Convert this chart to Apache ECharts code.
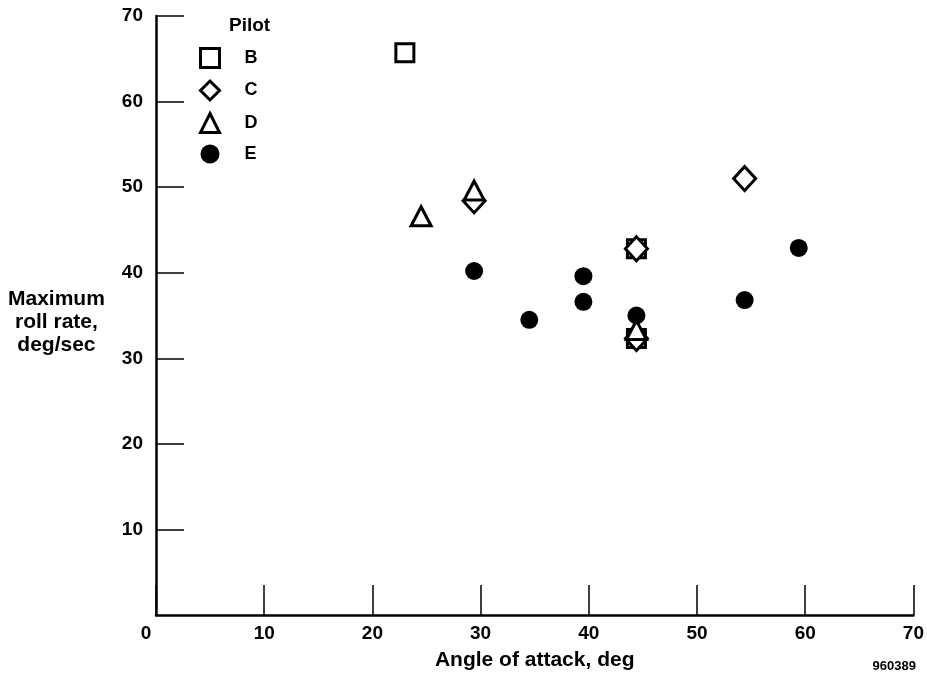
<!DOCTYPE html>
<html>
<head>
<meta charset="utf-8">
<script src="https://cdn.jsdelivr.net/npm/echarts@6/dist/echarts.min.js"></script>
<style>
html,body{margin:0;padding:0;background:#fff;}
#chart{width:927px;height:679px;}
</style>
</head>
<body>
<div id="chart"></div>
<script>
// Pilot B (open square)
var pilotB_x = [23.0, 44.4, 44.4];
var pilotB_y = [65.7, 42.8, 32.3];
// Pilot C (open diamond)
var pilotC_x = [29.4, 44.4, 44.4, 54.4];
var pilotC_y = [48.4, 42.8, 32.3, 51.0];
// Pilot D (open triangle)
var pilotD_x = [24.5, 29.4, 44.4];
var pilotD_y = [46.6, 49.6, 33.3];
// Pilot E (filled circle)
var pilotE_x = [29.4, 34.5, 39.5, 39.5, 44.4, 54.4, 59.4];
var pilotE_y = [40.2, 34.5, 39.6, 36.6, 35.0, 36.8, 42.9];

var xTicks = [0, 10, 20, 30, 40, 50, 60, 70];
var yTicks = [10, 20, 30, 40, 50, 60, 70];

function pairs(xs, ys) { return xs.map(function (x, i) { return [x, ys[i]]; }); }

var FONT = '"Liberation Sans", Arial, sans-serif';
var chart = echarts.init(document.getElementById('chart'));

var hollow = { color: '#ffffff', borderColor: '#000000', borderWidth: 3, opacity: 1 };

chart.setOption({
  animation: false,
  backgroundColor: '#ffffff',
  grid: { left: 156, right: 10, top: 16, bottom: 64 },
  legend: {
    orient: 'vertical',
    left: 194,
    top: 42,
    itemGap: 10.5,
    itemWidth: 19,
    itemHeight: 19,
    itemStyle: { borderWidth: 3 },
    textStyle: { fontFamily: FONT, fontWeight: 'bold', fontSize: 18, color: '#000', padding: [0, 0, 0, 20] },
    data: ['B', 'C', 'D', 'E']
  },
  xAxis: {
    type: 'value',
    min: xTicks[0],
    max: xTicks[xTicks.length - 1],
    interval: 10,
    name: 'Angle of attack, deg',
    nameLocation: 'middle',
    nameGap: 35,
    nameTextStyle: { fontFamily: FONT, fontWeight: 'bold', fontSize: 21, color: '#000' },
    axisLine: { show: true, lineStyle: { color: '#000', width: 2.5 } },
    axisTick: { show: true, inside: true, length: 30, lineStyle: { color: '#000', width: 1.5 } },
    axisLabel: {
      fontFamily: FONT, fontWeight: 'bold', fontSize: 19, color: '#000', margin: 9,
      formatter: function (v) { return v === 0 ? '{z|0}' : String(v); },
      rich: { z: { fontFamily: FONT, fontWeight: 'bold', fontSize: 19, color: '#000', padding: [0, 20, 0, 0] } }
    },
    splitLine: { show: false }
  },
  yAxis: {
    type: 'value',
    min: 0,
    max: yTicks[yTicks.length - 1],
    interval: 10,
    axisLine: { show: true, lineStyle: { color: '#000', width: 2.5 } },
    axisTick: { show: true, inside: true, length: 28, lineStyle: { color: '#000', width: 1.5 } },
    axisLabel: { fontFamily: FONT, fontWeight: 'bold', fontSize: 19, color: '#000', margin: 13, showMinLabel: false },
    splitLine: { show: false }
  },
  graphic: [
    { type: 'text', left: 229, top: 16, style: { text: 'Pilot', font: 'bold 19px ' + FONT, fill: '#000' } },
    { type: 'text', left: 8, top: 288, style: { text: 'Maximum\nroll rate,\ndeg/sec', font: 'bold 21px ' + FONT, fill: '#000', textAlign: 'center', lineHeight: 23 } },
    { type: 'text', right: 11, top: 660, style: { text: '960389', font: 'bold 13px ' + FONT, fill: '#000' } }
  ],
  series: [
    { name: 'B', type: 'scatter', symbol: 'rect', symbolSize: 18, itemStyle: hollow, data: pairs(pilotB_x, pilotB_y) },
    { name: 'C', type: 'scatter', symbol: 'diamond', symbolSize: [22, 24], itemStyle: hollow, data: pairs(pilotC_x, pilotC_y) },
    { name: 'D', type: 'scatter', symbol: 'triangle', symbolSize: [20, 19], itemStyle: hollow, data: pairs(pilotD_x, pilotD_y) },
    { name: 'E', type: 'scatter', symbol: 'circle', symbolSize: 18, itemStyle: { color: '#000', opacity: 1 }, data: pairs(pilotE_x, pilotE_y) }
  ]
});
</script>
</body>
</html>
